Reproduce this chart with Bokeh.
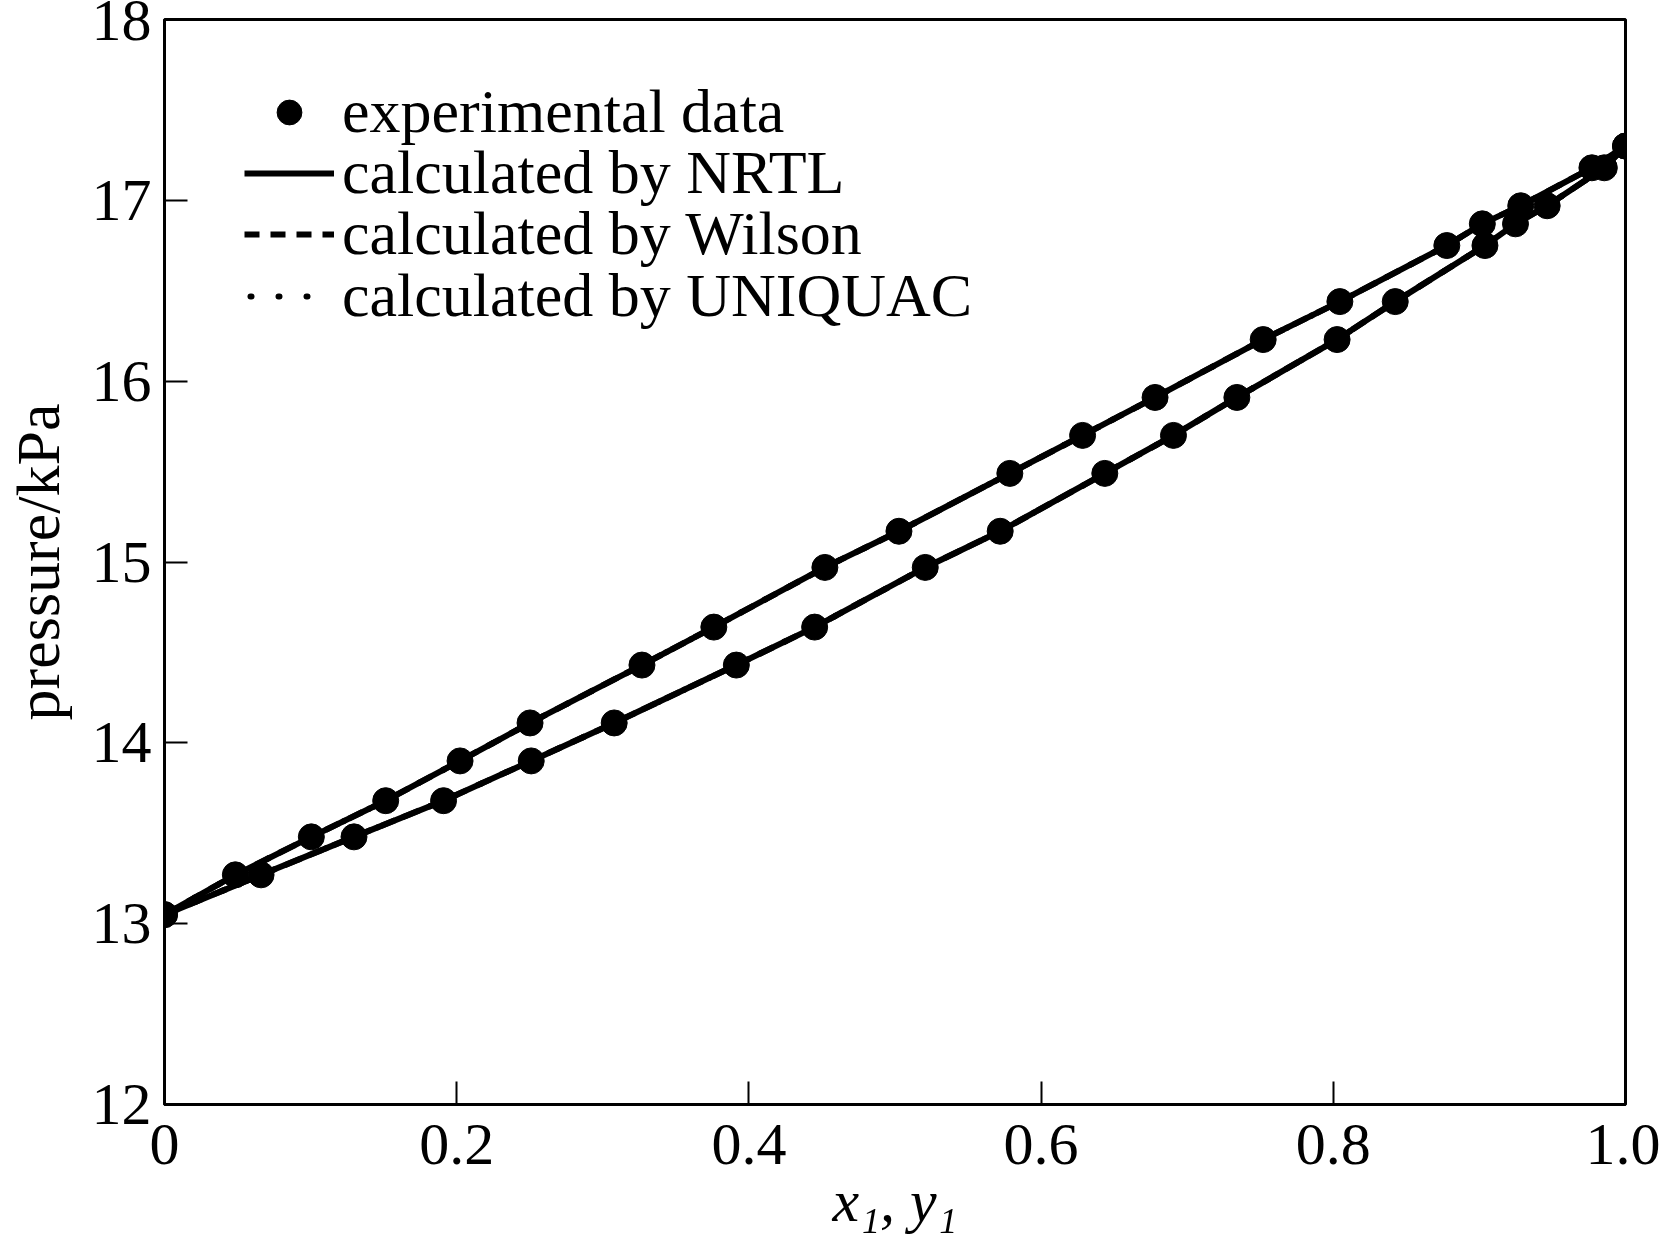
from bokeh.plotting import figure
from bokeh.models import Legend, LegendItem, Range1d, FixedTicker
from bokeh.embed import file_html
from bokeh.resources import INLINE

# ---- data ----
pressure_kpa = [13.05, 13.27, 13.48, 13.68, 13.90, 14.11, 14.43, 14.64, 14.97, 15.17,
                15.49, 15.70, 15.91, 16.23, 16.44, 16.75, 16.87, 16.97, 17.18, 17.30]
x1_liquid = [0.0, 0.0485, 0.1005, 0.1514, 0.2023, 0.2502, 0.3268, 0.376, 0.452, 0.5027,
             0.5786, 0.6284, 0.678, 0.752, 0.8045, 0.8777, 0.902, 0.9283, 0.977, 1.0]
y1_vapor = [0.0, 0.0661, 0.1297, 0.191, 0.251, 0.3078, 0.3914, 0.445, 0.5207, 0.572,
            0.6436, 0.6906, 0.734, 0.8026, 0.8424, 0.9038, 0.9247, 0.9464, 0.9855, 1.0]

# calculated curves (the three models coincide with the points at this scale)
calc_pressure = pressure_kpa
nrtl_x = x1_liquid
nrtl_y = y1_vapor
wilson_x = x1_liquid
wilson_y = y1_vapor
uniquac_x = x1_liquid
uniquac_y = y1_vapor

x_ticks = [0, 0.2, 0.4, 0.6, 0.8, 1.0]
x_tick_labels = ["0", "0.2", "0.4", "0.6", "0.8", "1.0"]
y_ticks = [12, 13, 14, 15, 16, 17, 18]

legend_labels = ["experimental data", "calculated by NRTL",
                 "calculated by Wilson", "calculated by UNIQUAC"]

FONT = "Liberation Serif"

p = figure(width=1660, height=1243,
           x_range=Range1d(0, 1), y_range=Range1d(12, 18),
           output_backend="svg", toolbar_location=None,
           min_border_left=164, min_border_right=35,
           min_border_top=19, min_border_bottom=139)

p.grid.visible = False
p.outline_line_color = "black"
p.outline_line_width = 3
p.background_fill_color = "white"
p.border_fill_color = "white"

for ax in (p.xaxis[0], p.yaxis[0]):
    ax.axis_line_width = 3
    ax.axis_line_color = "black"
    ax.major_tick_in = 23
    ax.major_tick_out = 0
    ax.major_tick_line_width = 2
    ax.major_tick_line_color = "black"
    ax.minor_tick_line_color = None
    ax.major_label_text_font = FONT
    ax.major_label_text_font_size = "60px"
    ax.major_label_text_color = "black"
    ax.axis_label_text_font = FONT
    ax.axis_label_text_color = "black"

p.xaxis[0].ticker = FixedTicker(ticks=x_ticks)
p.xaxis[0].major_label_overrides = {t: l for t, l in zip(x_ticks, x_tick_labels)}
p.xaxis[0].major_label_standoff = 20
p.xaxis[0].axis_label = "x\u2081, y\u2081"
p.xaxis[0].axis_label_text_font_size = "60px"
p.xaxis[0].axis_label_text_font_style = "italic"
p.xaxis[0].axis_label_standoff = 1

p.yaxis[0].ticker = FixedTicker(ticks=y_ticks)
p.yaxis[0].major_label_standoff = 13
p.yaxis[0].axis_label = "pressure/kPa"
p.yaxis[0].axis_label_text_font_size = "62px"
p.yaxis[0].axis_label_text_font_style = "normal"
p.yaxis[0].axis_label_standoff = 17

LW = 6
WILSON_DASH = "15 11"
UNIQ_DASH = "1 27"
r_nrtl = [p.line(xs, calc_pressure, line_color="black", line_width=LW)
          for xs in (nrtl_x, nrtl_y)]
r_wilson = [p.line(xs, calc_pressure, line_color="black", line_width=LW, line_dash=WILSON_DASH)
            for xs in (wilson_x, wilson_y)]
r_uniq = [p.line(xs, calc_pressure, line_color="black", line_width=LW, line_dash=UNIQ_DASH,
                 line_cap="round", line_dash_offset=22)
          for xs in (uniquac_x, uniquac_y)]
r_exp = [p.scatter(xs, pressure_kpa, size=26, marker="circle",
                   fill_color="black", line_color="black")
         for xs in (x1_liquid, y1_vapor)]

keys = [r_exp[0], r_nrtl[0], r_wilson[0], r_uniq[0]]

# one legend per row so that the row pitch matches the reference
row_bottoms = [957, 896, 835, 773]
for lab, key, yb in zip(legend_labels, keys, row_bottoms):
    lg = Legend(items=[LegendItem(label=lab, renderers=[key])],
                location=(80, yb), padding=0, margin=0, spacing=0,
                glyph_width=90, glyph_height=62, label_height=62, label_standoff=8,
                label_text_font=FONT, label_text_font_size="62px",
                label_text_color="black",
                border_line_color=None, background_fill_alpha=0)
    p.add_layout(lg)

open("out.html", "w").write(file_html(p, INLINE))
